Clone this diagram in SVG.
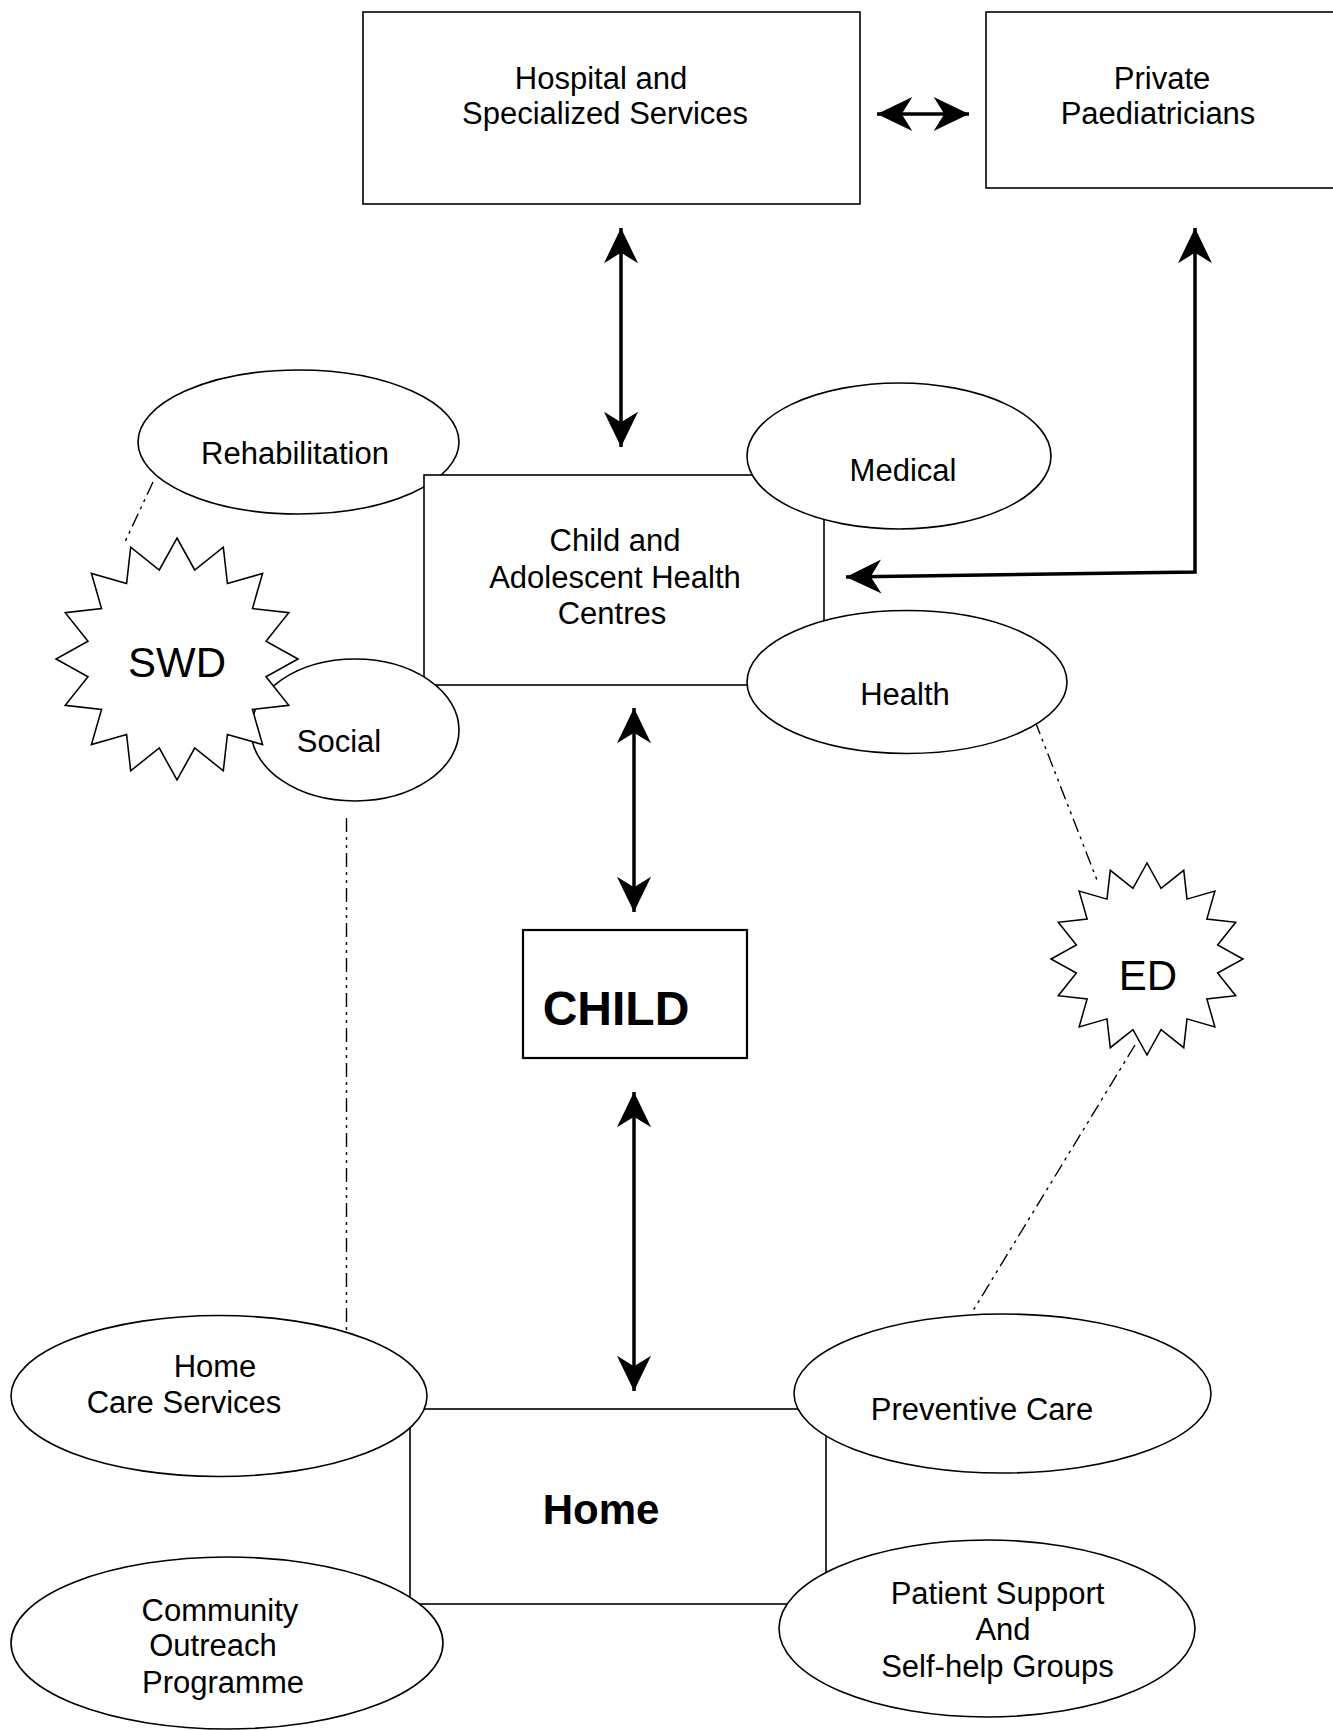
<svg xmlns="http://www.w3.org/2000/svg" xmlns:xlink="http://www.w3.org/1999/xlink" width="1333" height="1730" viewBox="0 0 1333 1730">
<style>
  .bg{fill:#fff}
  .box{fill:#fff;stroke:#000;stroke-width:1.6}
  .ell{fill:#fff;stroke:#000;stroke-width:1.6}
  .lbl{font-family:"Liberation Sans",Arial,sans-serif;font-size:31px;fill:#000;text-anchor:middle}
  .big{font-family:"Liberation Sans",Arial,sans-serif;font-size:42px;fill:#000;text-anchor:middle}
  .bold{font-family:"Liberation Sans",Arial,sans-serif;font-weight:bold;fill:#000;text-anchor:middle}
  .arr{fill:none;stroke:#000;stroke-width:3.5}
  .dd{fill:none;stroke:#000;stroke-width:1.4;stroke-dasharray:14 5 3 5 3 5}
  .star{fill:#fff;stroke:#000}
</style>
<defs>
  <marker id="ah" markerUnits="userSpaceOnUse" markerWidth="40" markerHeight="40" viewBox="-32 -16 34 32" refX="0" refY="0" orient="auto-start-reverse">
    <path d="M0,0 L-30,-14.5 L-21,0 L-30,14.5 Z" fill="#000"/>
  </marker>
  <polygon id="starShape" points="0,-100 14.63,-73.56 38.27,-92.39 41.67,-62.36 70.71,-70.71 62.36,-41.67 92.39,-38.27 73.56,-14.63 100,0 73.56,14.63 92.39,38.27 62.36,41.67 70.71,70.71 41.67,62.36 38.27,92.39 14.63,73.56 0,100 -14.63,73.56 -38.27,92.39 -41.67,62.36 -70.71,70.71 -62.36,41.67 -92.39,38.27 -73.56,14.63 -100,0 -73.56,-14.63 -92.39,-38.27 -62.36,-41.67 -70.71,-70.71 -41.67,-62.36 -38.27,-92.39 -14.63,-73.56"/>
</defs>
<rect class="bg" x="0" y="0" width="1333" height="1730"/>

<g id="connectors">
  <line class="arr" x1="877" y1="114" x2="969" y2="114" marker-start="url(#ah)" marker-end="url(#ah)"/>
  <line class="arr" x1="621" y1="228" x2="621" y2="447" marker-start="url(#ah)" marker-end="url(#ah)"/>
  <polyline class="arr" points="1195,228 1195,572 846,577" marker-start="url(#ah)" marker-end="url(#ah)"/>
  <line class="arr" x1="634" y1="708" x2="634" y2="912" marker-start="url(#ah)" marker-end="url(#ah)"/>
  <line class="arr" x1="634" y1="1092" x2="634" y2="1391" marker-start="url(#ah)" marker-end="url(#ah)"/>
  <line class="dd" x1="153" y1="482" x2="124" y2="544"/>
  <line class="dd" x1="346.5" y1="818" x2="346.5" y2="1330"/>
  <line class="dd" x1="1035" y1="721" x2="1097" y2="880"/>
  <line class="dd" x1="1135" y1="1045" x2="971" y2="1314"/>
</g>

<g id="hospital">
  <rect class="box" x="363" y="12" width="497" height="192"/>
  <text class="lbl" x="601" y="89">Hospital and</text>
  <text class="lbl" x="605" y="124">Specialized Services</text>
</g>

<g id="private">
  <rect class="box" x="986" y="12" width="360" height="176"/>
  <text class="lbl" x="1162" y="89">Private</text>
  <text class="lbl" x="1158" y="124">Paediatricians</text>
</g>

<g id="rehabilitation">
  <ellipse class="ell" cx="298.5" cy="442" rx="160.5" ry="72"/>
  <text class="lbl" x="295" y="464">Rehabilitation</text>
</g>

<g id="cahc">
  <rect class="box" x="424" y="475" width="400" height="210"/>
  <text class="lbl" x="615" y="551">Child and</text>
  <text class="lbl" x="615" y="588">Adolescent Health</text>
  <text class="lbl" x="612" y="624">Centres</text>
</g>

<g id="medical">
  <ellipse class="ell" cx="899" cy="456" rx="152" ry="73"/>
  <text class="lbl" x="903" y="481">Medical</text>
</g>

<g id="health">
  <ellipse class="ell" cx="907" cy="682" rx="160" ry="71.5"/>
  <text class="lbl" x="905" y="705">Health</text>
</g>

<g id="social">
  <ellipse class="ell" cx="355" cy="730" rx="104" ry="71"/>
  <text class="lbl" x="339" y="752">Social</text>
</g>

<g id="swd">
  <use xlink:href="#starShape" href="#starShape" class="star" stroke-width="1.3" transform="translate(177,659) scale(1.21)"/>
  <text class="big" x="177" y="677">SWD</text>
</g>

<g id="ed">
  <use xlink:href="#starShape" href="#starShape" class="star" stroke-width="1.6" transform="translate(1147,959) scale(0.96)"/>
  <text class="big" x="1148" y="990">ED</text>
</g>

<g id="child">
  <rect class="box" x="523" y="930" width="224" height="128" style="stroke-width:2.2"/>
  <text class="bold" x="616" y="1025" font-size="48">CHILD</text>
</g>

<g id="home">
  <rect class="box" x="410" y="1409" width="416" height="195"/>
  <text class="bold" x="601" y="1524" font-size="42">Home</text>
</g>

<g id="homecare">
  <ellipse class="ell" cx="219" cy="1396" rx="208" ry="80.5"/>
  <text class="lbl" x="215" y="1377">Home</text>
  <text class="lbl" x="184" y="1413">Care Services</text>
</g>

<g id="community">
  <ellipse class="ell" cx="227" cy="1643" rx="216" ry="86"/>
  <text class="lbl" x="220" y="1621">Community</text>
  <text class="lbl" x="213" y="1656">Outreach</text>
  <text class="lbl" x="223" y="1693">Programme</text>
</g>

<g id="preventive">
  <ellipse class="ell" cx="1002.5" cy="1393.5" rx="208.5" ry="79.5"/>
  <text class="lbl" x="982" y="1420">Preventive Care</text>
</g>

<g id="patient">
  <ellipse class="ell" cx="987" cy="1628.5" rx="208" ry="88.5"/>
  <text class="lbl" x="997.5" y="1604">Patient Support</text>
  <text class="lbl" x="1003" y="1640">And</text>
  <text class="lbl" x="997.5" y="1677">Self-help Groups</text>
</g>
</svg>
